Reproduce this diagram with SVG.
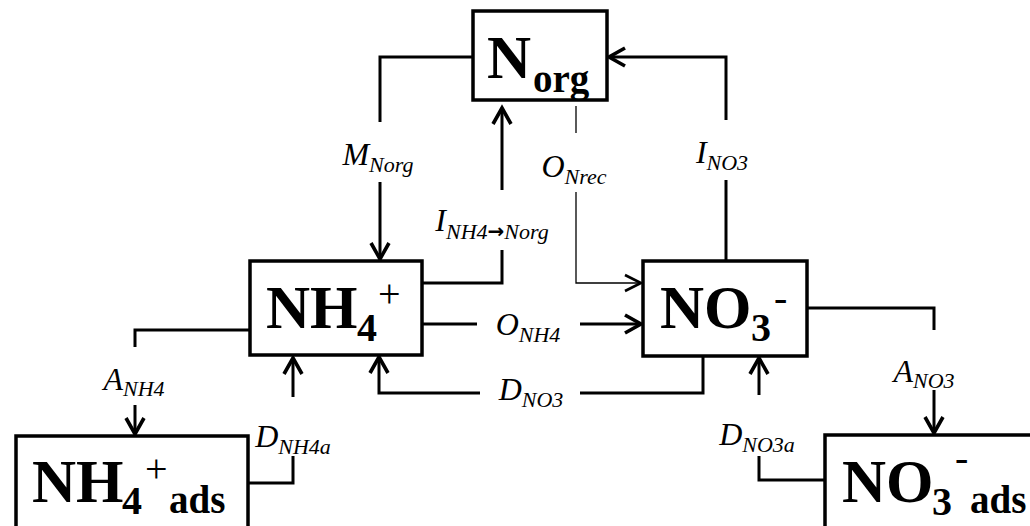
<svg xmlns="http://www.w3.org/2000/svg" width="1030" height="526" viewBox="0 0 1030 526">
<style>
.box{fill:#fff;stroke:#000;stroke-width:3.5}
.big{font-family:"Liberation Serif","Times New Roman",serif;font-weight:bold;font-size:61px;fill:#000}
.mid{font-size:40px}
.ads{font-size:39px}
.norm{font-weight:normal}
.lab{font-family:"Liberation Serif","Times New Roman",serif;font-style:italic;font-size:32px;fill:#000;text-anchor:middle}
.sub{font-size:22px}
.arr{font-family:"DejaVu Sans",sans-serif;font-style:normal;font-weight:bold;font-size:20px}
.c{fill:none;stroke:#000;stroke-width:3}
.thin{fill:none;stroke:#000;stroke-width:1.3}
</style>
<defs>
<marker id="ah" viewBox="-22 -12 26 24" refX="0" refY="0" markerWidth="26" markerHeight="24" markerUnits="userSpaceOnUse" orient="auto">
<path d="M-16,-9 L0,0 L-16,9" fill="none" stroke="#000" stroke-width="3.6"/>
</marker>
<marker id="aht" viewBox="-22 -12 26 24" refX="0" refY="0" markerWidth="26" markerHeight="24" markerUnits="userSpaceOnUse" orient="auto">
<path d="M-16,-8 L0,0 L-16,8" fill="none" stroke="#000" stroke-width="2.6"/>
</marker>
</defs>
<rect width="1030" height="526" fill="#fff"/>
<g id="connectors">
<path class="c" d="M473,57 H380 V122"/>
<path class="c" d="M380,182 V259" marker-end="url(#ah)"/>
<path class="c" d="M726,261 V180"/>
<path class="c" d="M726,120 V57 H609" marker-end="url(#ah)"/>
<path class="c" d="M422,283 H502 V250"/>
<path class="c" d="M502,190 V108" marker-end="url(#ah)"/>
<path class="thin" d="M576,106 V133"/>
<path class="thin" d="M576,192 V283 H641" marker-end="url(#aht)"/>
<path class="c" d="M422,324 H477"/>
<path class="c" d="M580,324 H641" marker-end="url(#ah)"/>
<path class="c" d="M703,356 V393 H580"/>
<path class="c" d="M480,393 H379 V357" marker-end="url(#ah)"/>
<path class="c" d="M250,330 H135 V347"/>
<path class="c" d="M135,405 V434" marker-end="url(#ah)"/>
<path class="c" d="M248,483 H293 V456"/>
<path class="c" d="M293,397 V358" marker-end="url(#ah)"/>
<path class="c" d="M807,308 H934 V330"/>
<path class="c" d="M934,390 V433" marker-end="url(#ah)"/>
<path class="c" d="M825,480 H759 V456"/>
<path class="c" d="M759,395 V358" marker-end="url(#ah)"/>
<text class="lab" x="492" y="231">I<tspan class="sub" dy="8">NH4</tspan><tspan class="arr" dy="-1">→</tspan><tspan class="sub" dy="1">Norg</tspan></text>
<text class="lab" x="378" y="165">M<tspan class="sub" dy="7">Norg</tspan></text>
<text class="lab" x="574" y="177">O<tspan class="sub" dy="7">Nrec</tspan></text>
<text class="lab" x="722" y="163">I<tspan class="sub" dy="7">NO3</tspan></text>
<text class="lab" x="528" y="335">O<tspan class="sub" dy="7">NH4</tspan></text>
<text class="lab" x="531" y="400">D<tspan class="sub" dy="7">NO3</tspan></text>
<text class="lab" x="134" y="390">A<tspan class="sub" dy="6">NH4</tspan></text>
<text class="lab" x="293" y="447">D<tspan class="sub" dy="7">NH4a</tspan></text>
<text class="lab" x="924" y="382">A<tspan class="sub" dy="6">NO3</tspan></text>
<text class="lab" x="757" y="445">D<tspan class="sub" dy="7">NO3a</tspan></text>
</g>
<g id="Norg">
<rect class="box" x="473" y="11" width="134" height="89"/>
<text class="big" x="487" y="78">N<tspan class="ads" x="533" y="92">org</tspan></text>
</g>
<g id="NH4">
<rect class="box" x="250" y="261" width="172" height="94"/>
<text class="big" x="266" y="328">NH<tspan class="mid" x="357" y="341">4</tspan><tspan class="mid norm" x="378" y="307">+</tspan></text>
</g>
<g id="NO3">
<rect class="box" x="643" y="261" width="164" height="95"/>
<text class="big" x="660" y="328">NO<tspan class="mid" x="751" y="341">3</tspan><tspan class="mid norm" x="774" y="311">-</tspan></text>
</g>
<g id="NH4ads">
<rect class="box" x="16" y="436" width="232" height="110"/>
<text class="big" x="32" y="502">NH<tspan class="mid" x="122" y="514">4</tspan><tspan class="mid norm" x="145" y="482">+</tspan><tspan class="ads" x="169" y="513">ads</tspan></text>
</g>
<g id="NO3ads">
<rect class="box" x="825" y="435" width="220" height="110"/>
<text class="big" x="842" y="502">NO<tspan class="mid" x="932" y="515">3</tspan><tspan class="mid norm" x="955" y="471">-</tspan><tspan class="ads" x="970" y="513">ads</tspan></text>
</g>
</svg>
